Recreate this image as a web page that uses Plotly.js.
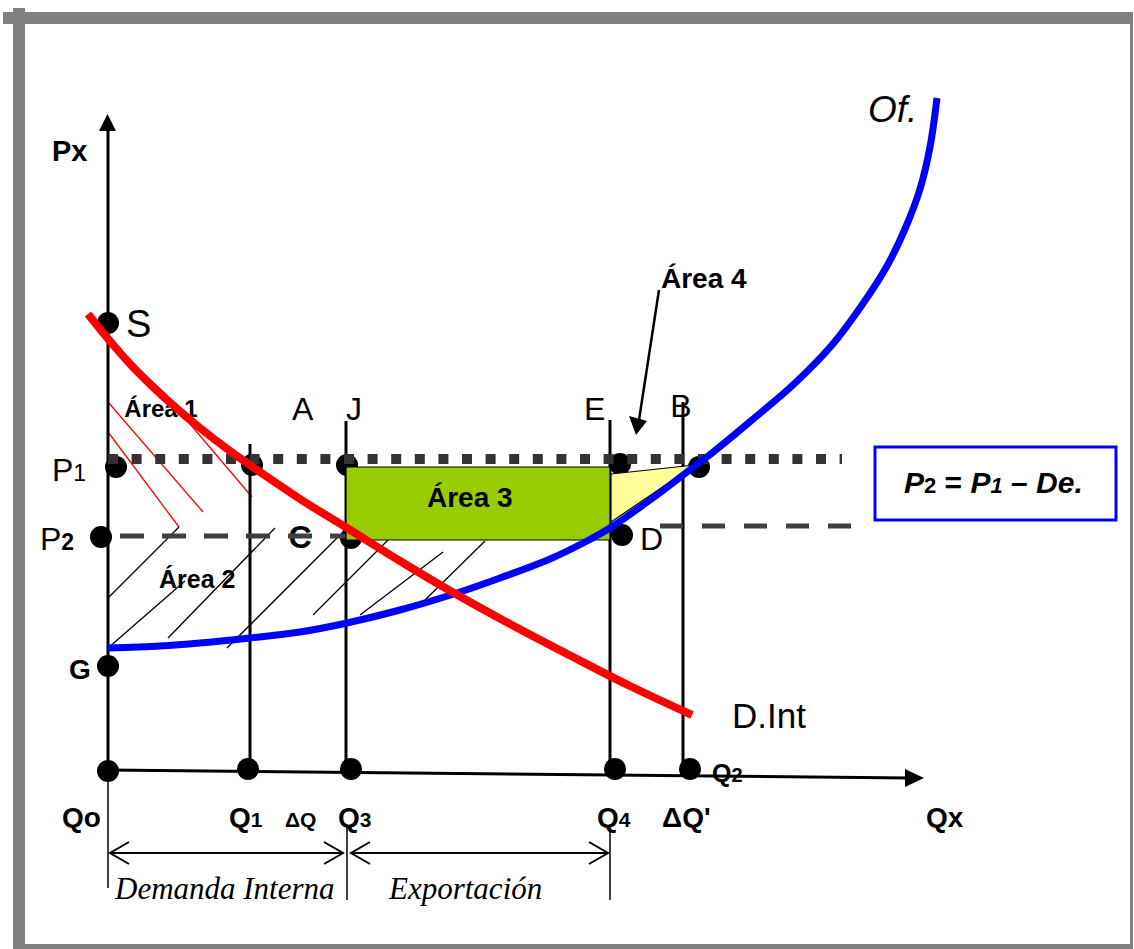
<!DOCTYPE html>
<html>
<head>
<meta charset="utf-8">
<script src="https://cdn.plot.ly/plotly-3.0.1.min.js"></script>
<style>html,body{margin:0;padding:0;background:#fff}#chart{width:1134px;height:949px}</style>
</head>
<body>
<div id="chart"></div>
<script>
// ---------- diagram data (pixel-space coordinates of the schematic) ----------
// Demand curve D.Int (red)
const demandX = [88, 100, 115, 132, 150, 175, 200, 230, 260, 300, 347, 400, 447, 510, 573, 630, 692];
const demandY = [314, 329, 347, 366, 384, 407, 428, 451, 472, 499, 528, 561, 589, 624, 657, 686, 715];
// Supply curve Of. (blue)
const supplyX = [108, 160, 200, 250, 300, 347, 400, 460, 500, 550, 587, 610, 650, 687, 712, 752, 794, 832, 862, 887, 905, 920, 930, 937];
const supplyY = [648, 646, 643, 638, 632, 623, 610, 592, 578, 559, 541, 528, 500, 472, 453, 420, 384, 345, 305, 266, 229, 189, 147, 98];
// Quantity marks on the Qx axis
const qLabels = ['Qo', 'Q1', 'Q3', 'Q4', 'Q2'];
const qDotX = [108, 248, 351, 615, 690];
const qDotY = [771, 769, 769, 769, 769];
// Vertical guide lines (Q1, J/Q3, E/Q4, B/Q2)
const vLineX = [250, 346, 610, 683];
const vLineTop = [444, 421, 420, 402];
const axisBaseY = 770;
// Price levels
const p1Level = 459, p2LevelLeft = 536, p2LevelRight = 526;
// Points on the diagram
const pointNames = ['S', 'P1', 'Q1top', 'J', 'E', 'B', 'P2', 'C', 'D', 'G'];
const pointX = [108, 116, 252, 347, 620, 699, 101, 351, 622, 108];
const pointY = [323, 467, 465, 465, 464, 467, 537, 538, 535, 666];
// Areas
const area3X = [346, 610, 610, 346, 346];
const area3Y = [467, 467, 540, 540, 467];
const area4X = [611, 695, 611, 611];
const area4Y = [474, 465, 522, 474];
// Hatching of Área 1 (red) and Área 2 (black)
const hatch1X = [108, 203, null, 108, 179, null, 190, 252];
const hatch1Y = [402, 512, null, 432, 527, null, 424, 497];
const hatch2X = [108, 179, null, 108, 185, null, 168, 275, null, 227, 340, null, 313, 388, null, 360, 443, null, 425, 485];
const hatch2Y = [598, 527, null, 648, 581, null, 638, 528, null, 648, 535, null, 615, 540, null, 615, 552, null, 600, 541];

const FONT = 'Liberation Sans, Arial, sans-serif';
const SERIF = 'Liberation Serif, Times New Roman, serif';

function line(x, y, color, width, dash) {
  return {type: 'scatter', mode: 'lines', x: x, y: y, hoverinfo: 'skip',
    line: {color: color, width: width, dash: dash || 'solid'}, cliponaxis: false};
}
function poly(x, y, fill, lc, lw) {
  return {type: 'scatter', mode: 'lines', x: x, y: y, fill: 'toself', fillcolor: fill,
    hoverinfo: 'skip', line: {color: lc || fill, width: lw === undefined ? 0 : lw}, cliponaxis: false};
}

const traces = [];
// hatch lines
traces.push(line(hatch1X, hatch1Y, '#ff0000', 1.3));
traces.push(line(hatch2X, hatch2Y, '#000000', 1.3));
// verticals
vLineX.forEach((x, i) => traces.push(line([x, x], [vLineTop[i], axisBaseY], '#000', 3)));
// Px axis (thick) + arrowhead, thin extension below
traces.push(line([108, 108], [130, 771], '#000', 3));
traces.push(poly([99, 116, 107.5, 99], [131, 131, 114, 131], '#000'));
traces.push(line([108, 108], [771, 888], '#000', 1.5));
// Qx axis
traces.push(line([108, 910], [770, 778], '#000', 3));
traces.push(poly([905, 905, 924, 905], [769, 787, 778, 769], '#000'));
// bracket ticks and double arrows
traces.push(line([347, 347, null, 610, 610], [826, 900, null, 828, 900], '#000', 1.5));
traces.push(line([110, 343, null, 129, 110, 129, null, 324, 343, 324], [853, 853, null, 842, 853, 864, null, 842, 853, 864], '#000', 2));
traces.push(line([351, 608, null, 370, 351, 370, null, 589, 608, 589], [853, 853, null, 842, 853, 864, null, 842, 853, 864], '#000', 2));
// letters that sit under lines/curves
traces.push({type: 'scatter', mode: 'text', x: [300, 681, 161], y: [540, 409, 411], text: ['<b>C</b>', 'B', '<b>Área 1</b>'],
  textfont: {family: FONT, size: [32, 32, 24], color: '#000'}, hoverinfo: 'skip', cliponaxis: false});
// points
traces.push({type: 'scatter', mode: 'markers', x: pointX.concat(qDotX), y: pointY.concat(qDotY),
  marker: {color: '#000', size: 22, line: {width: 0}}, hoverinfo: 'skip', cliponaxis: false});
// price lines
traces.push(line([108, 842], [p1Level, p1Level], '#333333', 10, '10px,13.6px'));
traces.push(line([120, 346], [p2LevelLeft, p2LevelLeft], '#404040', 5, '24px,18px'));
traces.push(line([660, 852], [p2LevelRight, p2LevelRight], '#404040', 5, '23px,19px'));
// areas
traces.push(poly(area3X, area3Y, '#99cc00', '#000', 1.2));
traces.push(poly(area4X, area4Y, '#ffff99', '#000', 1.2));
// curves
traces.push({type: 'scatter', mode: 'lines', x: supplyX, y: supplyY, hoverinfo: 'skip',
  line: {color: '#0000ff', width: 7, shape: 'spline', smoothing: 1}, cliponaxis: false});
traces.push({type: 'scatter', mode: 'lines', x: demandX, y: demandY, hoverinfo: 'skip',
  line: {color: '#ff0000', width: 8, shape: 'spline', smoothing: 1}, cliponaxis: false});
// Área 4 arrow
traces.push(line([659, 639], [290, 420], '#000', 2.5));
traces.push(poly([629, 647, 636, 629], [416, 421, 435, 416], '#000'));

function ann(x, y, text, size, opts) {
  return Object.assign({x: x, y: y, xref: 'x', yref: 'y', text: text, showarrow: false,
    font: {family: FONT, size: size, color: '#000'}, xanchor: 'center', yanchor: 'middle'}, opts || {});
}
const sub = (t, s) => "<span style='font-size:" + s + "px'>" + t + "</span>";

const annotations = [
  ann(69, 151, '<b>Px</b>', 29),
  ann(138, 324, 'S', 38),
  ann(303, 409, 'A', 32),
  ann(354, 409, 'J', 32),
  ann(594, 409, 'E', 32),
  ann(704, 278, '<b>Área 4</b>', 28),
  ann(69, 470, 'P' + sub('1', 23), 32),
  ann(57, 539, 'P' + sub('<b>2</b>', 23), 32),
  ann(470, 497, '<b>Área 3</b>', 28),
  ann(651, 539, 'D', 32),
  ann(197, 579, '<b>Área 2</b>', 25),
  ann(80, 669, '<b>G</b>', 28),
  ann(769, 715, 'D.Int', 35),
  ann(892, 109, '<i>Of.</i>', 37),
  ann(727, 773, '<b>Q' + sub('2', 20) + '</b>', 25),
  ann(81, 817, '<b>Qo</b>', 28),
  ann(246, 817, '<b>Q' + sub('1', 21) + '</b>', 28),
  ann(300, 819, '<b>ΔQ</b>', 21),
  ann(354, 817, '<b>Q' + sub('3', 21) + '</b>', 28),
  ann(614, 817, '<b>Q' + sub('4', 21) + '</b>', 28),
  ann(686, 817, "<b>ΔQ'</b>", 28),
  ann(945, 817, '<b>Qx</b>', 28),
  ann(224, 888, '<i>Demanda Interna</i>', 31, {font: {family: SERIF, size: 31, color: '#000'}}),
  ann(465, 888, '<i>Exportación</i>', 31, {font: {family: SERIF, size: 31, color: '#000'}}),
  ann(993, 482, '<b><i>P</i>' + sub('2', 22) + ' = <i>P' + sub('1', 22) + ' – De.</i></b>', 30)
];

const shapes = [
  {type: 'rect', xref: 'x', yref: 'y', x0: 3, x1: 1131, y0: 12, y1: 24, fillcolor: '#808080', line: {width: 0}, layer: 'below'},
  {type: 'rect', xref: 'x', yref: 'y', x0: 13, x1: 25, y0: 8, y1: 946, fillcolor: '#808080', line: {width: 0}, layer: 'below'},
  {type: 'rect', xref: 'x', yref: 'y', x0: 1130, x1: 1133, y0: 12, y1: 946, fillcolor: '#808080', line: {width: 0}, layer: 'below'},
  {type: 'rect', xref: 'x', yref: 'y', x0: 13, x1: 1133, y0: 944, y1: 949, fillcolor: '#808080', line: {width: 0}, layer: 'below'},
  {type: 'rect', xref: 'x', yref: 'y', x0: 875, x1: 1116, y0: 447, y1: 520, fillcolor: '#ffffff', line: {color: '#0000ff', width: 3}, layer: 'above'}
];

const layout = {
  width: 1134, height: 949,
  margin: {l: 0, r: 0, t: 0, b: 0, pad: 0},
  paper_bgcolor: '#ffffff', plot_bgcolor: '#ffffff',
  showlegend: false,
  xaxis: {range: [0, 1134], visible: false, fixedrange: true},
  yaxis: {range: [949, 0], visible: false, fixedrange: true},
  annotations: annotations,
  shapes: shapes
};

Plotly.newPlot('chart', traces, layout, {staticPlot: true, displayModeBar: false});
</script>
</body>
</html>
